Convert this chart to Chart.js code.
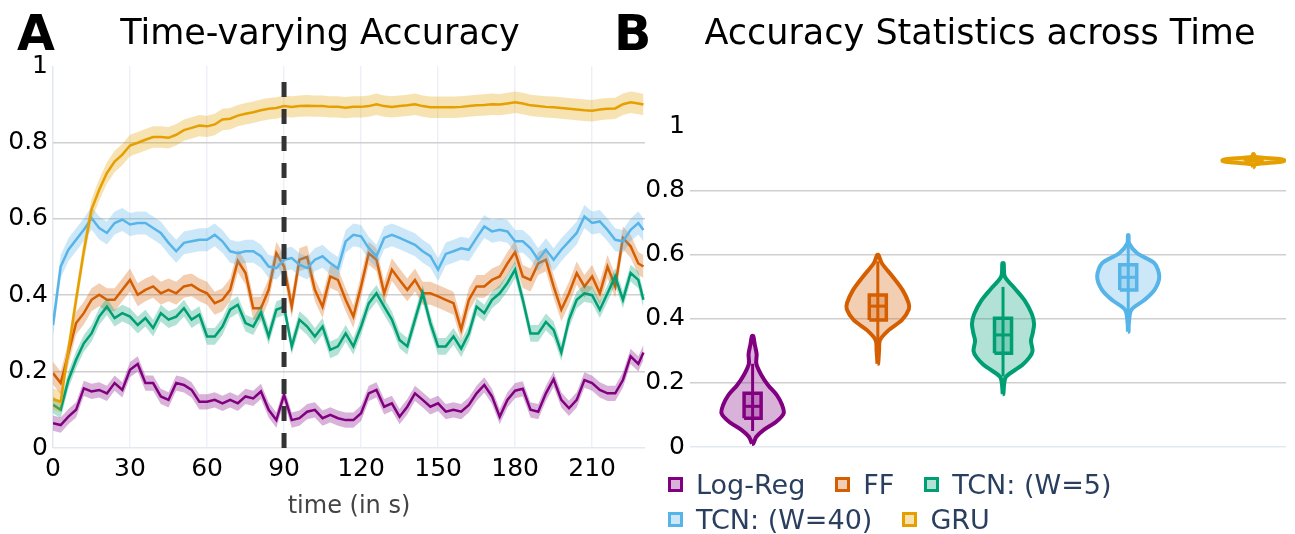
<!DOCTYPE html>
<html>
<head>
<meta charset="utf-8">
<script src="https://cdn.jsdelivr.net/npm/chart.js@4.4.1/dist/chart.umd.min.js"></script>
<style>
  body { margin: 0; width: 1295px; height: 534px; position: relative; background: #fff; overflow: hidden; font-family: "DejaVu Sans", sans-serif; }
  .wrap { position: absolute; top: 0; height: 534px; }
  .panel { position: absolute; font-weight: bold; font-size: 49px; line-height: 49px; color: #000; }
  .title { position: absolute; font-size: 35px; line-height: 35px; color: #000; text-align: center; }
  #legend { position: absolute; left: 668px; top: 467px; width: 600px; display: flex; flex-wrap: wrap; font-size: 27px; line-height: 35px; color: #2a3f5f; }
  #legend .item { display: flex; align-items: center; margin-right: 30px; }
  #legend .box { width: 9px; height: 9px; border: 3px solid; margin-right: 13px; }
</style>
</head>
<body>
<div class="wrap" style="left:0; width:650px;"><canvas id="chartA"></canvas></div>
<div class="wrap" style="left:640px; width:655px;"><canvas id="chartB"></canvas></div>
<div class="panel" style="left:17px; top:9px;">A</div>
<div class="panel" style="left:614px; top:9px;">B</div>
<div class="title" style="left:0; width:640px; top:15px;">Time-varying Accuracy</div>
<div class="title" style="left:680px; width:600px; top:15px;">Accuracy Statistics across Time</div>
<div id="legend"></div>
<script>
// panel A: time-varying accuracy (mean line + band)
const times = [0, 3, 6, 9, 12, 15, 18, 21, 24, 27, 30, 33, 36, 39, 42, 45, 48, 51, 54, 57, 60, 63, 66, 69, 72, 75, 78,
  81, 84, 87, 90, 93, 96, 99, 102, 105, 108, 111, 114, 117, 120, 123, 126, 129, 132, 135, 138, 141, 144, 147, 150, 153,
  156, 159, 162, 165, 168, 171, 174, 177, 180, 183, 186, 189, 192, 195, 198, 201, 204, 207, 210, 213, 216, 219, 222, 225, 228, 230];

const logReg = [0.065, 0.06, 0.082, 0.1, 0.156, 0.148, 0.152, 0.143, 0.17, 0.152, 0.205, 0.22, 0.17, 0.17, 0.135, 0.126, 0.17, 0.165, 0.152, 0.121, 0.121, 0.126, 0.117, 0.126, 0.117, 0.135, 0.13,
  0.148, 0.1, 0.073, 0.139, 0.073, 0.078, 0.095, 0.1, 0.078, 0.087, 0.078, 0.073, 0.073, 0.091, 0.143, 0.152, 0.108, 0.117, 0.082, 0.108, 0.143, 0.126, 0.108, 0.117, 0.095,
  0.1, 0.095, 0.113, 0.143, 0.165, 0.135, 0.082, 0.126, 0.15, 0.155, 0.1, 0.095, 0.143, 0.18, 0.126, 0.104, 0.126, 0.178, 0.17, 0.152, 0.143, 0.143, 0.178, 0.24, 0.22, 0.25];

const ff = [0.196, 0.17, 0.248, 0.327, 0.353, 0.388, 0.401, 0.388, 0.388, 0.414, 0.44, 0.401, 0.414, 0.423, 0.405, 0.414, 0.405, 0.423, 0.427, 0.414, 0.405, 0.379, 0.388, 0.414, 0.49, 0.458, 0.366,
  0.366, 0.414, 0.51, 0.475, 0.37, 0.493, 0.5, 0.414, 0.37, 0.449, 0.44, 0.388, 0.344, 0.423, 0.51, 0.493, 0.405, 0.467, 0.44, 0.414, 0.44, 0.405, 0.405, 0.397, 0.388,
  0.379, 0.31, 0.388, 0.423, 0.423, 0.44, 0.449, 0.483, 0.513, 0.449, 0.44, 0.483, 0.493, 0.423, 0.362, 0.405, 0.458, 0.423, 0.449, 0.405, 0.475, 0.423, 0.55, 0.528, 0.483, 0.475];

const tcn5 = [0.113, 0.1, 0.178, 0.231, 0.274, 0.3, 0.344, 0.37, 0.34, 0.353, 0.344, 0.322, 0.34, 0.314, 0.353, 0.336, 0.344, 0.366, 0.336, 0.349, 0.292, 0.292, 0.318, 0.362, 0.375, 0.327, 0.318,
  0.355, 0.292, 0.362, 0.37, 0.266, 0.336, 0.318, 0.292, 0.318, 0.257, 0.266, 0.3, 0.266, 0.318, 0.379, 0.405, 0.37, 0.336, 0.283, 0.266, 0.336, 0.405, 0.327, 0.266, 0.266,
  0.292, 0.26, 0.3, 0.37, 0.353, 0.388, 0.405, 0.432, 0.467, 0.388, 0.3, 0.3, 0.33, 0.309, 0.25, 0.336, 0.388, 0.405, 0.4, 0.362, 0.405, 0.449, 0.388, 0.458, 0.44, 0.388];

const tcn40 = [0.322, 0.475, 0.519, 0.545, 0.571, 0.602, 0.576, 0.563, 0.589, 0.598, 0.585, 0.589, 0.589, 0.576, 0.563, 0.537, 0.515, 0.537, 0.541, 0.545, 0.545, 0.558, 0.541, 0.515, 0.51, 0.515, 0.515,
  0.502, 0.475, 0.471, 0.493, 0.497, 0.48, 0.471, 0.493, 0.502, 0.484, 0.47, 0.541, 0.558, 0.554, 0.523, 0.502, 0.55, 0.558, 0.55, 0.541, 0.532, 0.515, 0.502, 0.467, 0.508,
  0.515, 0.523, 0.519, 0.55, 0.58, 0.567, 0.571, 0.567, 0.541, 0.541, 0.523, 0.493, 0.519, 0.493, 0.519, 0.541, 0.563, 0.606, 0.589, 0.593, 0.571, 0.545, 0.541, 0.571, 0.589, 0.571];

const gru = [0.128, 0.121, 0.257, 0.388, 0.515, 0.624, 0.676, 0.72, 0.75, 0.768, 0.792, 0.799, 0.807, 0.814, 0.814, 0.812, 0.82, 0.832, 0.838, 0.844, 0.842, 0.847, 0.86, 0.862, 0.87, 0.875, 0.879,
  0.884, 0.888, 0.89, 0.895, 0.893, 0.895, 0.896, 0.895, 0.895, 0.893, 0.893, 0.891, 0.893, 0.893, 0.895, 0.9, 0.895, 0.893, 0.895, 0.897, 0.9, 0.895, 0.892, 0.892, 0.892,
  0.892, 0.893, 0.895, 0.897, 0.898, 0.9, 0.899, 0.902, 0.905, 0.902, 0.897, 0.895, 0.893, 0.892, 0.89, 0.888, 0.886, 0.884, 0.883, 0.886, 0.888, 0.889, 0.9, 0.905, 0.902, 0.899];

// half width of the shaded band around each line
const bandHalf = [0.02, 0.03, 0.022, 0.03, 0.028];

const modelNames = ['Log-Reg', 'FF', 'TCN: (W=5)', 'TCN: (W=40)', 'GRU'];
const colors = ['#800080', '#d55e00', '#009e73', '#56b4e9', '#e69f00'];
const cutTime = 90;

// panel B: violin outlines as [accuracy, relative width]
const violinLogReg = [[0.01, 0.02], [0.032, 0.12], [0.053, 0.35], [0.079, 0.76], [0.105, 1.0], [0.131, 0.95], [0.162, 0.78], [0.193, 0.5], [0.225, 0.28], [0.26, 0.12], [0.29, 0.13], [0.32, 0.07], [0.347, 0.02]];
const violinFF = [[0.26, 0.01], [0.3, 0.04], [0.334, 0.07], [0.365, 0.35], [0.397, 0.78], [0.43, 1.0], [0.45, 0.99], [0.49, 0.8], [0.532, 0.48], [0.574, 0.13], [0.6, 0.02]];
const violinTcn5 = [[0.165, 0.01], [0.2, 0.04], [0.22, 0.1], [0.248, 0.5], [0.256, 0.62], [0.28, 0.85], [0.3, 0.95], [0.332, 0.9], [0.353, 0.95], [0.384, 1.0], [0.415, 0.93], [0.457, 0.7], [0.493, 0.4], [0.532, 0.06], [0.574, 0.02]];
const violinTcn40 = [[0.36, 0.01], [0.386, 0.02], [0.428, 0.1], [0.459, 0.52], [0.49, 0.84], [0.532, 1.0], [0.574, 0.84], [0.605, 0.29], [0.636, 0.03], [0.662, 0.01]];
const violinGru = [[0.874, 0.01], [0.883, 0.04], [0.891, 0.9], [0.895, 1.0], [0.899, 0.9], [0.907, 0.04], [0.915, 0.01]];

// box stats per model
const boxLow = [0.05, 0.33, 0.22, 0.41, 0.89];
const boxQ1 = [0.09, 0.397, 0.293, 0.49, 0.894];
const boxMedian = [0.127, 0.44, 0.35, 0.53, 0.896];
const boxQ3 = [0.168, 0.475, 0.402, 0.569, 0.898];
const boxHigh = [0.26, 0.58, 0.5, 0.64, 0.9];

const seriesA = [logReg, ff, tcn5, tcn40, gru];
const violins = [violinLogReg, violinFF, violinTcn5, violinTcn40, violinGru];

function rgba(hex, a) {
    const n = parseInt(hex.slice(1), 16);
    return 'rgba(' + (n >> 16) + ',' + ((n >> 8) & 255) + ',' + (n & 255) + ',' + a + ')';
}

const tickFont = { family: 'DejaVu Sans', size: 25 };
const fmt = v => String(+v.toFixed(2));
const yGridColor = ctx => ctx.tick.value === 0 ? '#e1e8f0' : (ctx.tick.value === 1 ? 'rgba(0,0,0,0)' : '#cfcfcf');

// ---------- chart A ----------
let datasetsA = [];
seriesA.forEach(function(vals, i) {
    const base = (5 - i) * 10;
    datasetsA.push({
        data: times.map((t, k) => ({ x: t, y: vals[k] + bandHalf[i] })),
        borderWidth: 0, pointRadius: 0, fill: '+1',
        backgroundColor: rgba(colors[i], 0.3), order: base + 2
    });
    datasetsA.push({
        data: times.map((t, k) => ({ x: t, y: vals[k] - bandHalf[i] })),
        borderWidth: 0, pointRadius: 0, fill: false, order: base + 1
    });
    datasetsA.push({
        label: modelNames[i],
        data: times.map((t, k) => ({ x: t, y: vals[k] })),
        borderColor: colors[i], borderWidth: 2.5, pointRadius: 0, fill: false, order: base
    });
});
datasetsA.push({
    data: [{ x: cutTime, y: 0 }, { x: cutTime, y: 0.975 }],
    borderColor: '#333', borderWidth: 5, borderDash: [15, 12], pointRadius: 0, fill: false, order: 0
});

new Chart(document.getElementById('chartA'), {
    type: 'line',
    data: { datasets: datasetsA },
    options: {
        responsive: true, maintainAspectRatio: false, animation: false,
        layout: { padding: { top: 66, right: 5, left: 0, bottom: 0 } },
        plugins: { legend: { display: false }, tooltip: { enabled: false } },
        scales: {
            x: {
                type: 'linear', min: 0, max: 230.6,
                ticks: { stepSize: 30, includeBounds: false, font: tickFont, color: '#000', padding: 6, maxRotation: 0, callback: fmt },
                grid: { drawTicks: false, color: ctx => ctx.tick.value === 0 ? '#e1e8f0' : '#edf1f7', lineWidth: 1.5 },
                border: { display: false },
                title: { display: true, text: 'time (in s)', font: { family: 'DejaVu Sans', size: 24 }, color: '#444', padding: { top: 4, bottom: 13 } },
                afterFit: s => { s.height = 86; }
            },
            y: {
                min: 0, max: 1,
                ticks: { stepSize: 0.2, font: tickFont, color: '#000', padding: 5, callback: fmt },
                grid: { drawTicks: false, lineWidth: 1.5, color: yGridColor },
                border: { display: false },
                afterFit: s => { s.width = 53; }
            }
        }
    }
});

// ---------- chart B ----------
const maxHalfWidth = 0.248;
const boxHalfWidth = 0.068;
let datasetsB = [];
violins.forEach(function(prof, i) {
    const asc = prof.slice().sort((a, b) => a[0] - b[0]);
    const left = asc.map(p => ({ x: i - p[1] * maxHalfWidth, y: p[0] }));
    const right = asc.slice().reverse().map(p => ({ x: i + p[1] * maxHalfWidth, y: p[0] }));
    datasetsB.push({
        data: left.concat(right, [left[0]]),
        borderColor: colors[i], borderWidth: 4, backgroundColor: rgba(colors[i], 0.3),
        fill: 'shape', tension: 0.3, pointRadius: 0, order: 40 - i
    });
    datasetsB.push({
        data: [{ x: i, y: boxLow[i] }, { x: i, y: boxHigh[i] }],
        borderColor: colors[i], borderWidth: 3, pointRadius: 0, fill: false, order: 30 - i
    });
    datasetsB.push({
        data: [{ x: i - boxHalfWidth, y: boxQ1[i] }, { x: i + boxHalfWidth, y: boxQ1[i] },
               { x: i + boxHalfWidth, y: boxQ3[i] }, { x: i - boxHalfWidth, y: boxQ3[i] },
               { x: i - boxHalfWidth, y: boxQ1[i] }],
        borderColor: colors[i], borderWidth: 3.5, backgroundColor: rgba(colors[i], 0.3),
        fill: 'shape', pointRadius: 0, order: 20 - i
    });
    datasetsB.push({
        data: [{ x: i - boxHalfWidth, y: boxMedian[i] }, { x: i + boxHalfWidth, y: boxMedian[i] }],
        borderColor: colors[i], borderWidth: 3, pointRadius: 0, fill: false, order: 10 - i
    });
});

new Chart(document.getElementById('chartB'), {
    type: 'line',
    data: { datasets: datasetsB },
    options: {
        responsive: true, maintainAspectRatio: false, animation: false,
        layout: { padding: { top: 66, right: 9, left: 0, bottom: 87 } },
        plugins: { legend: { display: false }, tooltip: { enabled: false } },
        scales: {
            x: { type: 'linear', min: -0.5, max: 4.26, display: false },
            y: {
                min: 0, max: 1.19,
                ticks: { stepSize: 0.2, includeBounds: false, font: tickFont, color: '#000', padding: 5, callback: fmt },
                grid: { drawTicks: false, lineWidth: 1.5, color: yGridColor },
                border: { display: false },
                afterFit: s => { s.width = 50; }
            }
        }
    }
});

// legend for panel B
const legendEl = document.getElementById('legend');
modelNames.forEach(function(name, i) {
    const item = document.createElement('div');
    item.className = 'item';
    const box = document.createElement('span');
    box.className = 'box';
    box.style.borderColor = colors[i];
    box.style.background = rgba(colors[i], 0.3);
    item.appendChild(box);
    item.appendChild(document.createTextNode(name));
    legendEl.appendChild(item);
});
</script>
</body>
</html>
